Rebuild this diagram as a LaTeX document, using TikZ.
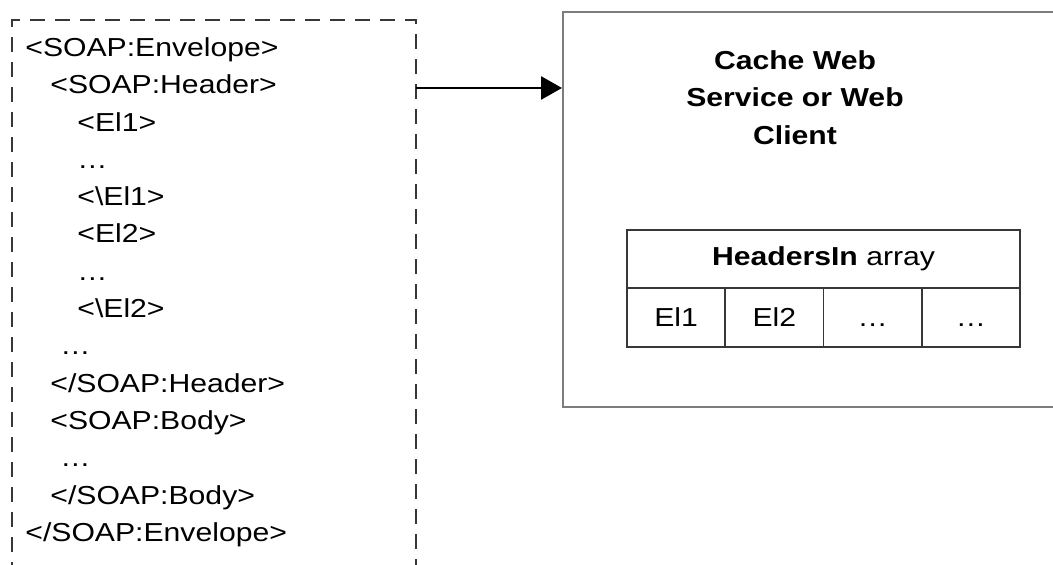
\documentclass[tikz,border=0pt]{standalone}
\usepackage{fontspec}
\setmainfont[FakeStretch=1.16]{Liberation Sans}
\usetikzlibrary{arrows.meta}
\definecolor{boxgray}{RGB}{125,125,125}
\definecolor{linegray}{RGB}{55,55,55}
\tikzset{
  xmlline/.style={anchor=base west, inner sep=0pt},
  cell/.style={draw=linegray, line width=0.8pt, minimum height=29.5pt, inner sep=0pt, outer sep=0pt, anchor=north west},
  slot/.style={cell, minimum width=49.125pt, text height=9.4pt, text depth=0pt},
  arrow/.style={-{Triangle[length=10.5pt, width=11.5pt]}, line width=1.4pt},
}

\begin{document}
\begin{tikzpicture}[x=0.5pt, y=-0.5pt, font=\fontsize{13}{18.7}\selectfont]
\useasboundingbox (0,0) rectangle (1053,565);
% envelope box, its bottom runs off the page
\node [draw=linegray, line width=1pt, dash pattern=on 7.5pt off 5pt, minimum width=202pt, minimum height=300pt, inner sep=0pt] (envelope) at (214,320) {};
\node [xmlline] (env) at (25,56.5) {<SOAP:Envelope>};
\node [xmlline] (hdr) at (50,93.8) {<SOAP:Header>};
\node [xmlline] (elA) at (77,131.1) {<El1>};
\node [xmlline] (dotsA) at (77,168.4) {…};
\node [xmlline] (elAend) at (77,205.7) {<\textbackslash El1>};
\node [xmlline] (elB) at (77,243) {<El2>};
\node [xmlline] (dotsB) at (77,280.3) {…};
\node [xmlline] (elBend) at (77,317.6) {<\textbackslash El2>};
\node [xmlline] (dotsC) at (60,354.9) {…};
\node [xmlline] (hdrend) at (50,392.2) {</SOAP:Header>};
\node [xmlline] (body) at (50,429.5) {<SOAP:Body>};
\node [xmlline] (dotsD) at (60,466.8) {…};
\node [xmlline] (bodyend) at (50,504.1) {</SOAP:Body>};
\node [xmlline] (envend) at (25,541.4) {</SOAP:Envelope>};

% cache box, its right side runs off the page
\node [draw=boxgray, line width=1pt, minimum width=253.5pt, minimum height=197.5pt, inner sep=0pt] (cache) at (816.5,209.5) {};
\node [font=\fontsize{13}{18.7}\selectfont\bfseries, align=center, inner sep=0pt] (title) at (795,97.5) {Cache Web\\Service or Web\\Client};

% HeadersIn table
\node [cell, minimum width=196.5pt, minimum height=29pt] (headersin) at (627,230) {\textbf{HeadersIn} array};
\node [slot] (el1) at (headersin.south west) {El1};
\node [slot] (el2) at (el1.north east) {El2};
\node [slot] (more1) at (el2.north east) {…};
\node [slot] (more2) at (more1.north east) {…};

\coordinate (out) at (416,88);
\draw [arrow] (out) -- (out -| cache.west);
\end{tikzpicture}
\end{document}
